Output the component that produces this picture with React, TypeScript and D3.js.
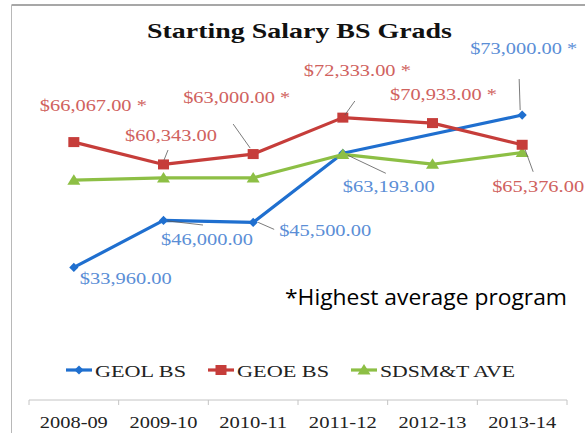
import React from "react";
import * as d3 from "d3";

// ---- data ----
const categories = ["2008-09", "2009-10", "2010-11", "2011-12", "2012-13", "2013-14"];
const seriesNames = ["GEOL BS", "GEOE BS", "SDSM&T AVE"];
const geolBS: (number | null)[] = [33960, 46000, 45500, 63193, null, 73000];
const geoeBS: (number | null)[] = [66067, 60343, 63000, 72333, 70933, 65376];
const sdsmtAve: (number | null)[] = [56300, 56900, 56900, 62900, 60400, 63400];
const geolHighest = [false, false, false, false, false, true];
const geoeHighest = [true, false, true, true, true, false];
const yDomain = [0, 80000];
const title = "Starting Salary BS Grads";
const note = "*Highest average program";

// ---- layout (label placement relative to each point) ----
// [dx, dy] from point to label's left/baseline; null = no label
const geolLabelOff: ([number, number] | null)[] = [[6, 16.6], [-2.5, 24.6], [26, 13.6], [0, 38.7], null, [-52, -61]];
const geoeLabelOff: ([number, number] | null)[] = [[-34, -31], [-38.5, -23.4], [-70, -51], [-39, -41.6], [-42.5, -23], [-30, 47]];
// leader lines [x1,y1,x2,y2] relative to point
const geolLeader: ([number, number, number, number] | null)[] = [null, [4, 0.5, 39.5, 4.6], [5, 0, 21, 7], [5, 2, 43, 20], null, [-3, -36, -2, -5]];
const geoeLeader: ([number, number, number, number] | null)[] = [null, [4.5, -14.4, 0.5, -4.4], [-20, -30, -3, -6], [12, -16.6, 2, -2.6], null, [3, 5, 11, 27]];

const W = 585;
const H = 433;
const BLUE = "#1f6fcf";
const RED = "#c63d3a";
const GREEN = "#8dbf45";
const BLUE_TXT = "#5b8ed6";
const RED_TXT = "#d0625e";
const SERIF = "'Liberation Serif', 'Times New Roman', serif";

const x = d3.scaleBand<string>().domain(categories).range([29, 567]).padding(0);
const y = d3.scaleLinear().domain(yDomain).range([400, 87.7]);
const cx = (c: string) => (x(c) as number) + x.bandwidth() / 2;

const fmt = d3.format("$,.2f");

type Pt = { c: string; v: number; i: number };
const pts = (vals: (number | null)[]): Pt[] =>
  vals.map((v, i) => ({ c: categories[i], v: v as number, i })).filter((d) => d.v != null);

const line = d3
  .line<Pt>()
  .x((d) => cx(d.c))
  .y((d) => y(d.v));

function Diamond({ px, py, r = 4.6, fill = BLUE }: any) {
  return <path d={`M${px},${py - r}L${px + r},${py}L${px},${py + r}L${px - r},${py}Z`} fill={fill} />;
}
function Square({ px, py, fill = RED }: any) {
  return <rect x={px - 5.5} y={py - 5} width={11} height={10} fill={fill} />;
}
function Tri({ px, py, fill = GREEN }: any) {
  return <path d={`M${px},${py - 6}L${px + 6.5},${py + 4.5}L${px - 6.5},${py + 4.5}Z`} fill={fill} />;
}

function FText({ x0, y0, len, children, anchor = "start", ...rest }: any) {
  return (
    <text x={x0} y={y0} textAnchor={anchor} textLength={len} lengthAdjust="spacingAndGlyphs" {...rest}>
      {children}
    </text>
  );
}

function Labels({ vals, offs, leaders, highest, color }: any) {
  return (
    <g>
      {vals.map((v: number | null, i: number) => {
        if (v == null) return null;
        const px = cx(categories[i]);
        const py = y(v);
        const o = offs[i];
        const l = leaders[i];
        return (
          <g key={i}>
            {l && (
              <line x1={px + l[0]} y1={py + l[1]} x2={px + l[2]} y2={py + l[3]} stroke="#595959" strokeWidth={0.8} />
            )}
            {o && (
              <FText x0={px + o[0]} y0={py + o[1]} len={highest[i] ? 107 : 92} fontFamily={SERIF} fontSize={15.8} fill={color}>
                {fmt(v) + (highest[i] ? " *" : "")}
              </FText>
            )}
          </g>
        );
      })}
    </g>
  );
}

export default function App() {
  const geol = pts(geolBS);
  const geoe = pts(geoeBS);
  const ave = pts(sdsmtAve);
  const ticks = [...categories.map((c) => x(c) as number), 567];
  const legendY = 370;
  const legendItems = [
    { name: seriesNames[0], x0: 66, len: 91, color: BLUE, M: Diamond },
    { name: seriesNames[1], x0: 208, len: 92, color: RED, M: Square },
    { name: seriesNames[2], x0: 351, len: 135, color: GREEN, M: Tri },
  ];
  return (
    <svg width={W} height={H} style={{ position: "absolute", left: 0, top: 0, background: "#fff" }}>
      <rect x={0} y={0} width={W} height={H} fill="#fff" />
      {/* frame */}
      <line x1={11.5} y1={5} x2={W} y2={5} stroke="#8a8a8a" strokeWidth={1.5} />
      <line x1={11.5} y1={5} x2={11.5} y2={H} stroke="#b8b8b8" strokeWidth={1} />

      {/* title */}
      <FText x0={147} y0={38} len={305} fontFamily={SERIF} fontWeight="bold" fontSize={21} fill="#111">
        {title}
      </FText>

      {/* axis */}
      <line x1={29} y1={400} x2={567} y2={400} stroke="#c4c4c4" strokeWidth={1} />
      {ticks.map((t, i) => (
        <line key={i} x1={t} y1={400} x2={t} y2={405} stroke="#c4c4c4" strokeWidth={1} />
      ))}
      {categories.map((c) => (
        <FText key={c} x0={cx(c) - 34} y0={428} len={68} fontFamily={SERIF} fontSize={16.5} fill="#222">
          {c}
        </FText>
      ))}

      {/* lines */}
      <path d={line(geol) || ""} fill="none" stroke={BLUE} strokeWidth={3.2} strokeLinejoin="round" />
      {geol.map((d) => (
        <Diamond key={d.i} px={cx(d.c)} py={y(d.v)} />
      ))}
      <path d={line(ave) || ""} fill="none" stroke={GREEN} strokeWidth={3.2} strokeLinejoin="round" />
      {ave.map((d) => (
        <Tri key={d.i} px={cx(d.c)} py={y(d.v)} />
      ))}
      <path d={line(geoe) || ""} fill="none" stroke={RED} strokeWidth={3.2} strokeLinejoin="round" />
      {geoe.map((d) => (
        <Square key={d.i} px={cx(d.c)} py={y(d.v)} />
      ))}

      {/* data labels */}
      <Labels vals={geoeBS} offs={geoeLabelOff} leaders={geoeLeader} highest={geoeHighest} color={RED_TXT} />
      <Labels vals={geolBS} offs={geolLabelOff} leaders={geolLeader} highest={geolHighest} color={BLUE_TXT} />

      {/* note */}
      <FText x0={285} y0={305} len={282} fontFamily="'Open Sans', 'Noto Sans', sans-serif" fontSize={22} fill="#000">
        {note}
      </FText>

      {/* legend */}
      {legendItems.map(({ name, x0, len, color, M }) => (
        <g key={name}>
          <line x1={x0} y1={legendY} x2={x0 + 26} y2={legendY} stroke={color} strokeWidth={3.2} />
          <M px={x0 + 13} py={legendY} />
          <FText x0={x0 + 29} y0={legendY + 6.5} len={len} fontFamily={SERIF} fontSize={17.5} fill="#222">
            {name}
          </FText>
        </g>
      ))}
    </svg>
  );
}
